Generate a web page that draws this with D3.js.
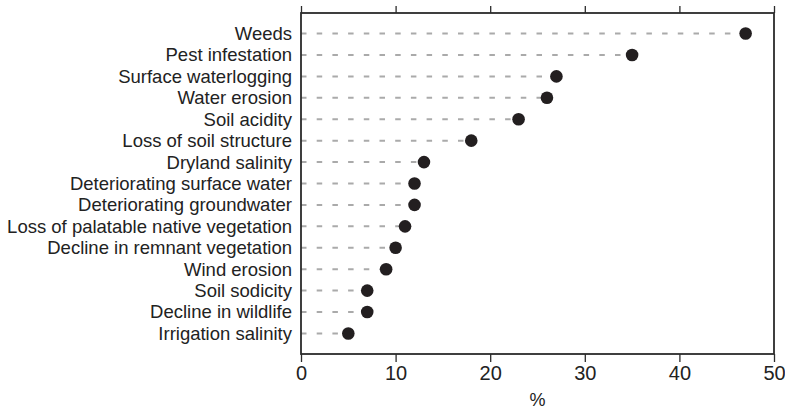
<!DOCTYPE html>
<html lang="en">
  <head>
    <meta charset="UTF-8" />
    <title>Land management issues</title>
    <script src="https://d3js.org/d3.v7.min.js"></script>
    <style>
      body {
        margin: 0;
        background: #fff;
        font-family: 'Liberation Sans', Arial, sans-serif;
      }
      .frame {
        fill: none;
        stroke: #2b2b2b;
        stroke-width: 1.8;
      }
      .axis line {
        stroke: #2b2b2b;
        stroke-width: 1.3;
      }
      .axis text {
        fill: #222;
        font-size: 20px;
      }
      .cat {
        fill: #222;
        font-size: 18.5px;
      }
      .title {
        fill: #222;
        font-size: 18px;
      }
      .stem {
        stroke: #aaa;
        stroke-width: 2;
        stroke-dasharray: 5.5 10.2;
      }
    </style>
  </head>
  <body>
    <div id="chart"></div>
    <script>
      // categories (top to bottom) and percentage values
      const issues = [
        'Weeds',
        'Pest infestation',
        'Surface waterlogging',
        'Water erosion',
        'Soil acidity',
        'Loss of soil structure',
        'Dryland salinity',
        'Deteriorating surface water',
        'Deteriorating groundwater',
        'Loss of palatable native vegetation',
        'Decline in remnant vegetation',
        'Wind erosion',
        'Soil sodicity',
        'Decline in wildlife',
        'Irrigation salinity',
      ];
      const percent = [47, 35, 27, 26, 23, 18, 13, 12, 12, 11, 10, 9, 7, 7, 5];
      const xTicks = [0, 10, 20, 30, 40, 50];

      const width = 785,
        height = 410;
      const margin = { top: 13, right: 11, bottom: 56, left: 301 };
      const w = width - margin.left - margin.right,
        h = height - margin.top - margin.bottom;

      const svg = d3
        .select('#chart')
        .append('svg')
        .attr('width', width)
        .attr('height', height);

      const g = svg
        .append('g')
        .attr('transform', `translate(${margin.left},${margin.top})`);

      const x = d3.scaleLinear().domain([0, 50]).range([0, w]);
      const y = d3.scalePoint().domain(issues).range([0, h]).padding(0.96);

      const data = issues.map((name, i) => ({ name, value: percent[i] }));

      // dashed stems
      g.selectAll('line.stem')
        .data(data)
        .join('line')
        .attr('class', 'stem')
        .attr('x1', x(0))
        .attr('x2', (d) => x(d.value))
        .attr('y1', (d) => y(d.name))
        .attr('y2', (d) => y(d.name));

      // axes (ticks only, frame drawn separately)
      g.append('g')
        .attr('class', 'axis')
        .call(d3.axisTop(x).tickValues(xTicks).tickSize(7).tickFormat(''))
        .call((a) => a.select('.domain').remove());

      g.append('g')
        .attr('class', 'axis')
        .attr('transform', `translate(0,${h})`)
        .call(d3.axisBottom(x).tickValues(xTicks).tickSize(8).tickPadding(4))
        .call((a) => a.select('.domain').remove());

      g.append('rect')
        .attr('class', 'frame')
        .attr('x', 0)
        .attr('y', 0)
        .attr('width', w)
        .attr('height', h);

      // dots
      g.selectAll('circle')
        .data(data)
        .join('circle')
        .attr('cx', (d) => x(d.value))
        .attr('cy', (d) => y(d.name))
        .attr('r', 6.3)
        .attr('fill', '#231f20');

      // category labels
      g.selectAll('text.cat')
        .data(data)
        .join('text')
        .attr('class', 'cat')
        .attr('x', -9)
        .attr('y', (d) => y(d.name))
        .attr('dy', '0.35em')
        .attr('text-anchor', 'end')
        .text((d) => d.name);

      // x axis title
      g.append('text')
        .attr('class', 'title')
        .attr('x', w / 2)
        .attr('y', h + 52)
        .attr('text-anchor', 'middle')
        .text('%');
    </script>
  </body>
</html>
